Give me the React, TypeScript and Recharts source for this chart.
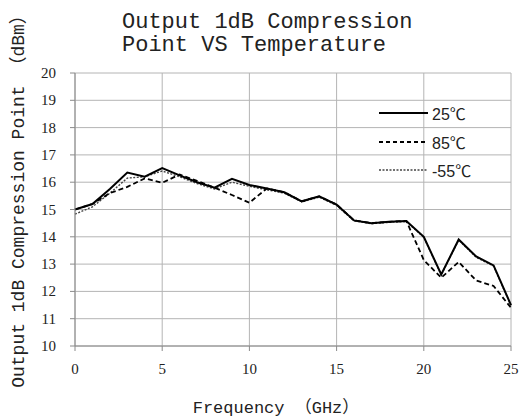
import React from "react"
import { LineChart, Line, XAxis, YAxis, CartesianGrid } from "recharts"

const freqs = [0, 1, 2, 3, 4, 5, 6, 7, 8, 9, 10, 11, 12, 13, 14, 15, 16, 17, 18, 19, 20, 21, 22, 23, 24, 25]
const temp25 = [15.0, 15.2, 15.75, 16.35, 16.2, 16.52, 16.25, 16.0, 15.8, 16.12, 15.9, 15.77, 15.63, 15.3, 15.48, 15.18, 14.6, 14.5, 14.55, 14.58, 14.0, 12.62, 13.9, 13.28, 12.95, 11.5]
const temp85 = [15.0, 15.2, 15.6, 15.83, 16.14, 15.98, 16.28, 16.05, 15.8, 15.53, 15.25, 15.77, 15.63, 15.3, 15.48, 15.18, 14.6, 14.5, 14.55, 14.58, 13.15, 12.5, 13.08, 12.4, 12.2, 11.4]
const tempM55 = [14.83, 15.1, 15.6, 16.15, 16.2, 16.41, 16.2, 15.95, 15.75, 16.0, 15.85, 15.72, 15.6, 15.28, 15.45, 15.15, 14.58, 14.48, 14.53, 14.56, 13.98, 12.6, 13.88, 13.25, 12.93, 11.48]

const xTicks = [0, 5, 10, 15, 20, 25]
const yTicks = [10, 11, 12, 13, 14, 15, 16, 17, 18, 19, 20]

const data = freqs.map((f, i) => ({ f, t25: temp25[i], t85: temp85[i], tm55: tempM55[i] }))

const legendItems = [
  { label: "25℃", dash: undefined, width: 2, color: "#000" },
  { label: "85℃", dash: "4 3", width: 1.8, color: "#000" },
  { label: "-55℃", dash: "2 1.5", width: 1.4, color: "#444" },
]

const mono = "'Liberation Mono', 'Noto Sans CJK SC', monospace"
const serif = "'Liberation Serif', serif"

const XTick = (props: any) => {
  const { x, y, payload } = props
  return (
    <text x={x} y={y + 21} textAnchor="middle" fontFamily={serif} fontSize={15} fill="#222">
      {payload.value}
    </text>
  )
}

const YTick = (props: any) => {
  const { y, payload } = props
  return (
    <text x={56} y={y + 5} textAnchor="end" fontFamily={serif} fontSize={15} fill="#222">
      {payload.value}
    </text>
  )
}

export default function App() {
  return (
    <div style={{ position: "absolute", left: 0, top: 0, width: 532, height: 417, background: "#fff" }}>
      <LineChart width={532} height={417} data={data} margin={{ top: 73, right: 21, left: 0, bottom: 41 }}>
        <CartesianGrid stroke="#b4b4b4" strokeWidth={1} />
        <XAxis
          dataKey="f"
          type="number"
          domain={[0, 25]}
          ticks={xTicks}
          interval={0}
          height={30}
          stroke="#8a8a8a"
          tickSize={5}
          tick={<XTick />}
        />
        <YAxis
          domain={[10, 20]}
          ticks={yTicks}
          interval={0}
          width={75}
          stroke="#8a8a8a"
          tickSize={5}
          tick={<YTick />}
        />
        <Line dataKey="tm55" stroke="#444" strokeWidth={1.4} strokeDasharray="2 1.5" dot={false} isAnimationActive={false} />
        <Line dataKey="t85" stroke="#000" strokeWidth={1.8} strokeDasharray="5 3" dot={false} isAnimationActive={false} />
        <Line dataKey="t25" stroke="#000" strokeWidth={2} dot={false} isAnimationActive={false} />
      </LineChart>
      <div style={{ position: "absolute", left: 379, top: 99 }}>
        {legendItems.map((it) => (
          <div key={it.label} style={{ display: "flex", alignItems: "center", height: 28.5 }}>
            <svg width={50} height={10}>
              <line x1={0} y1={5} x2={49} y2={5} stroke={it.color} strokeWidth={it.width} strokeDasharray={it.dash} />
            </svg>
            <span style={{ marginLeft: 3, fontSize: 16, fontFamily: "'Liberation Sans', 'Noto Sans CJK SC', sans-serif", color: "#222" }}>
              {it.label}
            </span>
          </div>
        ))}
      </div>
      <div
        style={{
          position: "absolute",
          left: 122,
          top: 11,
          fontFamily: mono,
          fontSize: 22,
          lineHeight: "23px",
          color: "#222",
          whiteSpace: "pre",
        }}
      >
        {"Output 1dB Compression\nPoint VS Temperature"}
      </div>
      <div
        style={{
          position: "absolute",
          left: 16,
          top: 197,
          transform: "translate(-50%, -50%) rotate(-90deg)",
          fontFamily: mono,
          fontSize: 18,
          color: "#222",
          whiteSpace: "nowrap",
        }}
      >
        Output 1dB Compression Point （dBm）
      </div>
      <div
        style={{
          position: "absolute",
          left: 276,
          top: 393,
          transform: "translateX(-50%)",
          fontFamily: mono,
          fontSize: 17,
          color: "#222",
          whiteSpace: "nowrap",
        }}
      >
        Frequency （GHz）
      </div>
    </div>
  )
}
